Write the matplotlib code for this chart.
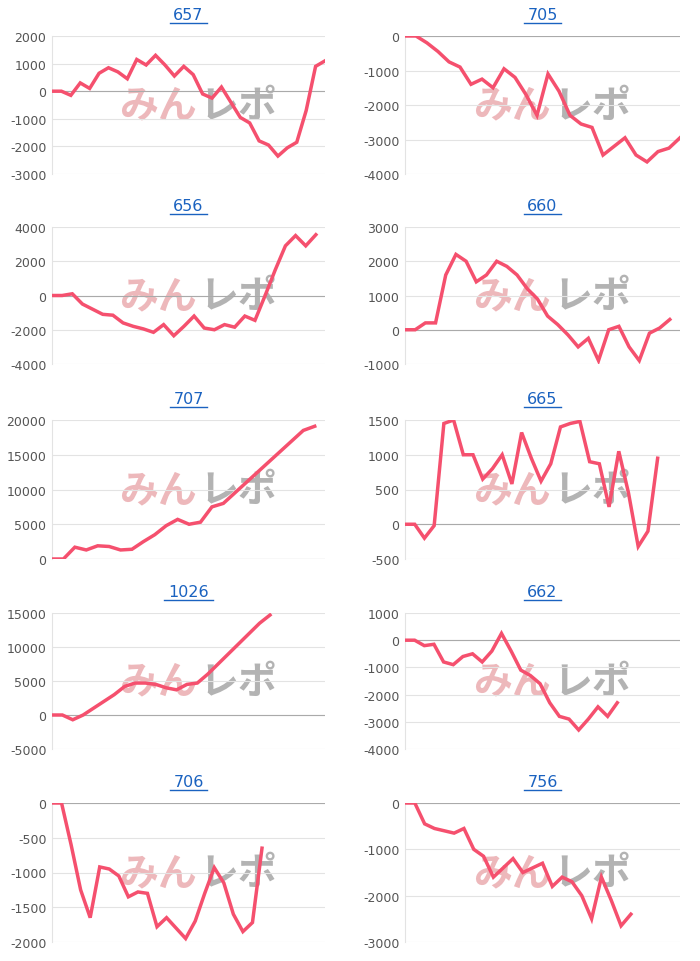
import matplotlib.pyplot as plt

plt.rcParams['font.family'] = ['DejaVu Sans']

titles = ['657', '705', '656', '660', '707', '665', '1026', '662', '706', '756']

s657 = [0, 0, -150, 300, 100, 650, 850, 700, 450, 1150, 950, 1300, 950, 550, 900, 600,
        -100, -250, 150, -400, -950, -1150, -1800, -1950, -2350, -2050, -1850, -700, 900, 1100]
s705 = [0, 0, -200, -450, -750, -900, -1400, -1250, -1500, -950, -1200, -1700, -2300, -1100,
        -1600, -2300, -2550, -2650, -3450, -3200, -2950, -3450, -3650, -3350, -3250, -2950]
s656 = [0, 0, 100, -500, -800, -1100, -1150, -1600, -1800, -1950, -2150, -1700, -2350, -1800,
        -1200, -1900, -2000, -1700, -1850, -1200, -1450, 0, 1500, 2900, 3500, 2900, 3550]
s660 = [0, 0, 200, 200, 1600, 2200, 2000, 1400, 1600, 2000, 1850, 1600, 1200, 900, 400, 150,
        -150, -500, -250, -900, 0, 100, -500, -900, -100, 50, 300]
s707 = [0, 0, 1700, 1300, 1900, 1800, 1300, 1400, 2500, 3500, 4800, 5700, 5000, 5300, 7500,
        8000, 9500, 11000, 12500, 14000, 15500, 17000, 18500, 19100]
s665 = [0, 0, -200, -20, 1450, 1500, 1000, 1000, 650, 800, 1000, 580, 1320, 950, 620, 870,
        1400, 1450, 1480, 900, 870, 250, 1050, 450, -320, -100, 950]
s1026 = [0, 0, -700, 0, 1000, 2000, 3000, 4200, 4700, 4700, 4500, 4000, 3700, 4500, 4700,
         6000, 7500, 9000, 10500, 12000, 13500, 14700]
s662 = [0, 0, -200, -150, -800, -900, -600, -500, -800, -400, 250, -400, -1100, -1300, -1600,
        -2300, -2800, -2900, -3300, -2900, -2450, -2800, -2300]
s706 = [0, 0, -600, -1250, -1650, -920, -950, -1050, -1350, -1280, -1300, -1780, -1650, -1800,
        -1950, -1700, -1300, -930, -1150, -1600, -1850, -1720, -650]
s756 = [0, 0, -450, -550, -600, -650, -550, -1000, -1150, -1600, -1400, -1200, -1500, -1400,
        -1300, -1800, -1600, -1700, -2000, -2500, -1600, -2100, -2650, -2400]
series = [s657, s705, s656, s660, s707, s665, s1026, s662, s706, s756]

yticks = [
    [-3000, -2000, -1000, 0, 1000, 2000],
    [-4000, -3000, -2000, -1000, 0],
    [-4000, -2000, 0, 2000, 4000],
    [-1000, 0, 1000, 2000, 3000],
    [0, 5000, 10000, 15000, 20000],
    [-500, 0, 500, 1000, 1500],
    [-5000, 0, 5000, 10000, 15000],
    [-4000, -3000, -2000, -1000, 0, 1000],
    [-2000, -1500, -1000, -500, 0],
    [-3000, -2000, -1000, 0],
]
# x extent (in point steps) of each panel's axis
xmax = [29, 25, 26.9, 27, 23.9, 28.3, 26.3, 28.5, 28.6, 28]

W, H = 700, 962
fig = plt.figure(figsize=(W / 100, H / 100), dpi=100)
cols = [(52, 325), (405, 680)]
rows = [(37, 175), (228, 365), (421, 560), (614, 750), (804, 943)]

for i, (t, s) in enumerate(zip(titles, series)):
    r, c = divmod(i, 2)
    x0, x1 = cols[c]
    yt, yb = rows[r]
    ax = fig.add_axes([x0 / W, 1 - yb / H, (x1 - x0) / W, (yb - yt) / H])
    ax.plot(range(len(s)), s, color='#f5506e', lw=2.5, zorder=3, solid_joinstyle='miter')
    ax.set_xlim(0, xmax[i])
    yk = yticks[i]
    ax.set_ylim(yk[0], yk[-1])
    ax.set_yticks(yk)
    ax.set_yticklabels([str(v) for v in yk], color='#555555', fontsize=9)
    ax.set_xticks([])
    ax.tick_params(axis='y', length=0, pad=4)
    ax.grid(axis='y', color='#e3e3e3', lw=0.8)
    ax.axhline(0, color='#aaaaaa', lw=0.8, zorder=2)
    for sp in ['top', 'right', 'bottom']:
        ax.spines[sp].set_visible(False)
    ax.spines['left'].set_color('#e3e3e3')
    ttl = ax.text(0.5, 1.1, t, transform=ax.transAxes, color='#1a62c0', fontsize=11.5,
                  ha='center', va='bottom')
    # underline the title
    hw = 0.022 * len(t)
    ax.plot([0.5 - hw, 0.5 + hw], [1.095, 1.095], transform=ax.transAxes,
            color='#1a62c0', lw=1, clip_on=False)
    # watermark
    ax.text(0.53, 0.5, 'みん', transform=ax.transAxes, fontsize=28, fontweight='bold',
            style='italic', color='#e8a0a5', alpha=0.75, ha='right', va='center',
            family=['Noto Sans CJK JP', 'DejaVu Sans'], zorder=1)
    ax.text(0.54, 0.5, 'レポ', transform=ax.transAxes, fontsize=28, fontweight='bold',
            style='italic', color='#9a9a9a', alpha=0.75, ha='left', va='center',
            family=['Noto Sans CJK JP', 'DejaVu Sans'], zorder=1)

fig.savefig('out.png', dpi=100)
